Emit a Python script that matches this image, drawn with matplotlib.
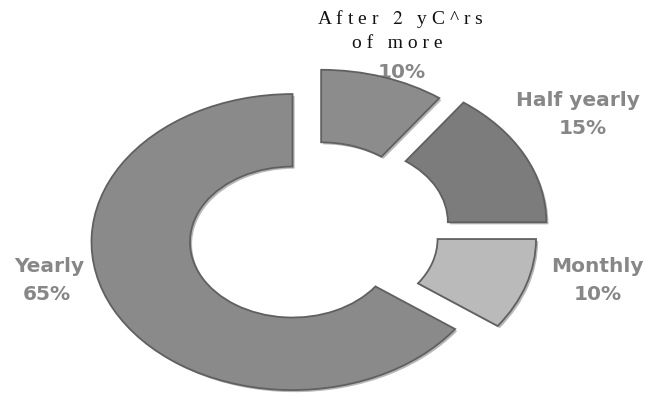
import matplotlib
matplotlib.use("Agg")
import matplotlib.pyplot as plt
import matplotlib.patheffects as pe

# Payment frequency shares (%), clockwise from 12 o'clock
categories = ["After 2 years or more", "Half yearly", "Monthly", "Yearly"]
shares = [10, 15, 10, 65]
share_labels = ["10%", "15%", "10%", "65%"]

# Wedge fills and spacing
fills = ["#8c8c8c", "#7c7c7c", "#bababa", "#8a8a8a"]
explode = [0.115, 0.175, 0.11, 0.12]

plt.rcParams["mathtext.fontset"] = "stix"

fig = plt.figure(figsize=(6.52, 4.00), dpi=100)
ax = fig.add_axes([0, 0, 1, 1])

wedges, _ = ax.pie(
    shares,
    explode=explode,
    colors=fills,
    startangle=90,
    counterclock=False,
    radius=1.0,
    wedgeprops=dict(width=0.49, edgecolor="#606060", linewidth=1.3),
)
for w in wedges:
    w.set_zorder(3)
    w.set_path_effects([
        pe.SimplePatchShadow(offset=(1.5, -1.5), shadow_rgbFace="#333333", alpha=0.35),
        pe.Normal(),
    ])

# Elliptical (flattened) ring: different pixel scale on x and y
ax.set_aspect("auto")
ax.set_xlim(-314 / 201, (652 - 314) / 201)
ax.set_ylim(-(400 - 234) / 148, 234 / 148)
ax.axis("off")

label_kw = dict(fontsize=14.5, fontweight="bold", color="#878787",
                ha="center", va="center", family="DejaVu Sans",
                transform=fig.transFigure, zorder=4)

def fx(px):
    return px / 652

def fy(py):
    return 1 - py / 400

# Top slice: category title in spaced serif, share tucked behind the wedge
title_kw = dict(fontsize=14, color="#111111", ha="center", va="center",
                family="Liberation Serif", transform=fig.transFigure)
ax.text(fx(400), fy(19), r"A f t e r   $\mathit{2}$   y C ^ r s", **title_kw)
ax.text(fx(397), fy(44), "o f   m o r e", **title_kw)
ax.text(fx(402), fy(72), share_labels[0], **{**label_kw, "zorder": 1})

ax.text(fx(578), fy(101), "Half yearly", **label_kw)
ax.text(fx(583), fy(129), share_labels[1], **label_kw)

ax.text(fx(597), fy(267), "Monthly", **label_kw)
ax.text(fx(598), fy(294), share_labels[2], **label_kw)

ax.text(fx(49), fy(267), "Yearly", **label_kw)
ax.text(fx(47), fy(294), share_labels[3], **label_kw)

fig.savefig("out.png", dpi=100, facecolor="white")
